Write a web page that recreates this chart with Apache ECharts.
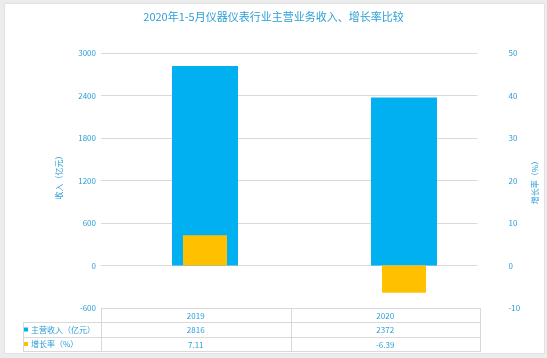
<!DOCTYPE html>
<html><head><meta charset="utf-8">
<script src="https://cdn.jsdelivr.net/npm/echarts@6/dist/echarts.min.js"></script>
<style>html,body{margin:0;padding:0;background:#ececec}#c{width:547px;height:358px}</style>
</head><body><div id="c"></div>
<script>
var title = '2020年1-5月仪器仪表行业主营业务收入、增长率比较';
var categories = ['2019', '2020'];
var revenueName = '主营收入（亿元）';
var revenue = [2816, 2372];
var growthName = '增长率（%）';
var growth = [7.11, -6.39];
var leftAxisName = '收入（亿元）';
var rightAxisName = '增长率（%）';

var FONT = '"Noto Sans CJK SC", "Noto Sans", sans-serif';
var TXT = '#2c9fd6';
var BLUE = '#00b0f0';
var YEL = '#ffc000';
var LINE = '#d9d9d9';

// layout
var GL = 101, GR = 480, GT = 53, GB = 308;
var TL = 23, rows = [308, 322, 337, 351];

var chart = echarts.init(document.getElementById('c'), null, {renderer: 'canvas'});

var graphics = [];
graphics.push({type: 'rect', z: -10, silent: true, shape: {x: 4.5, y: 3.5, width: 540, height: 350},
  style: {fill: '#ffffff', stroke: '#e2e2e2', lineWidth: 1}});
function hline(y, x1, x2) { graphics.push({type: 'line', z: 5, silent: true, shape: {x1: x1, y1: y + 0.5, x2: x2, y2: y + 0.5}, style: {stroke: LINE, lineWidth: 1}}); }
function vline(x, y1, y2) { graphics.push({type: 'line', z: 5, silent: true, shape: {x1: x + 0.5, y1: y1, x2: x + 0.5, y2: y2}, style: {stroke: LINE, lineWidth: 1}}); }
function txt(t, x, y, align) { graphics.push({type: 'text', z: 6, silent: true, x: x, y: y, style: {text: t, fill: TXT, font: '8px ' + FONT, textAlign: align || 'center', textVerticalAlign: 'middle'}}); }

hline(rows[0], GL, GR);
hline(rows[1], TL, GR);
hline(rows[2], TL, GR);
hline(rows[3], TL, GR);
var colW = (GR - GL) / categories.length;
vline(TL, rows[1], rows[3] + 1);
for (var i = 0; i <= categories.length; i++) vline(Math.round(GL + i * colW), rows[0], rows[3] + 1);
for (var i = 0; i < categories.length; i++) {
  var cx = GL + (i + 0.5) * colW;
  txt(categories[i], cx, (rows[0] + rows[1]) / 2 + 0.5);
  txt(String(revenue[i]), cx, (rows[1] + rows[2]) / 2 + 0.5);
  txt(String(growth[i]), cx, (rows[2] + rows[3]) / 2 + 0.5);
}
graphics.push({type: 'rect', z: 6, silent: true, shape: {x: 24, y: (rows[1] + rows[2]) / 2 - 2, width: 4, height: 4}, style: {fill: BLUE}});
graphics.push({type: 'rect', z: 6, silent: true, shape: {x: 24, y: (rows[2] + rows[3]) / 2 - 2, width: 4, height: 4}, style: {fill: YEL}});
txt(revenueName, 31, (rows[1] + rows[2]) / 2, 'left');
txt(growthName, 31, (rows[2] + rows[3]) / 2, 'left');

var axisLabelStyle = {color: TXT, fontSize: 8, fontFamily: FONT, formatter: function (v) { return String(v); }};
var option = {
  animation: false,
  title: {text: title, left: 'center', top: 6, textStyle: {color: TXT, fontSize: 11, fontWeight: 'normal', fontFamily: FONT}},
  grid: [
    {left: GL, right: 547 - GR, top: GT, bottom: 358 - GB},
    {left: 105.5, right: 43.5, top: GT, bottom: 358 - GB}
  ],
  xAxis: [
    {type: 'category', gridIndex: 0, data: categories, axisLine: {show: false}, axisTick: {show: false}, axisLabel: {show: false}},
    {type: 'category', gridIndex: 1, data: categories, show: false},
    {type: 'category', gridIndex: 1, data: categories, show: false}
  ],
  yAxis: [
    {type: 'value', gridIndex: 0, min: -600, max: 3000, interval: 600, position: 'left',
     name: leftAxisName, nameLocation: 'middle', nameGap: 38, nameRotate: 90,
     nameTextStyle: {color: TXT, fontSize: 8, fontFamily: FONT, padding: [0, 0, 0, 10]},
     axisLine: {show: false}, axisTick: {show: false},
     axisLabel: Object.assign({margin: 5}, axisLabelStyle),
     splitLine: {lineStyle: {color: LINE, width: 1}}},
    {type: 'value', gridIndex: 0, min: -10, max: 50, interval: 10, position: 'right',
     name: rightAxisName, nameLocation: 'middle', nameGap: 48, nameRotate: 90,
     nameTextStyle: {color: TXT, fontSize: 8, fontFamily: FONT},
     axisLine: {show: false}, axisTick: {show: false},
     axisLabel: Object.assign({margin: 31}, axisLabelStyle),
     splitLine: {show: false}},
    {type: 'value', gridIndex: 1, min: -600, max: 3000, interval: 600, show: false, splitLine: {show: false}},
    {type: 'value', gridIndex: 1, min: -10, max: 50, interval: 10, show: false, splitLine: {show: false}}
  ],
  series: [
    {name: revenueName, type: 'bar', xAxisIndex: 1, yAxisIndex: 2, data: revenue, barWidth: 66, itemStyle: {color: BLUE}, z: 2},
    {name: growthName, type: 'bar', xAxisIndex: 2, yAxisIndex: 3, data: growth, barWidth: 44, itemStyle: {color: YEL}, z: 3}
  ],
  graphic: graphics
};
chart.setOption(option);
</script>
</body></html>
